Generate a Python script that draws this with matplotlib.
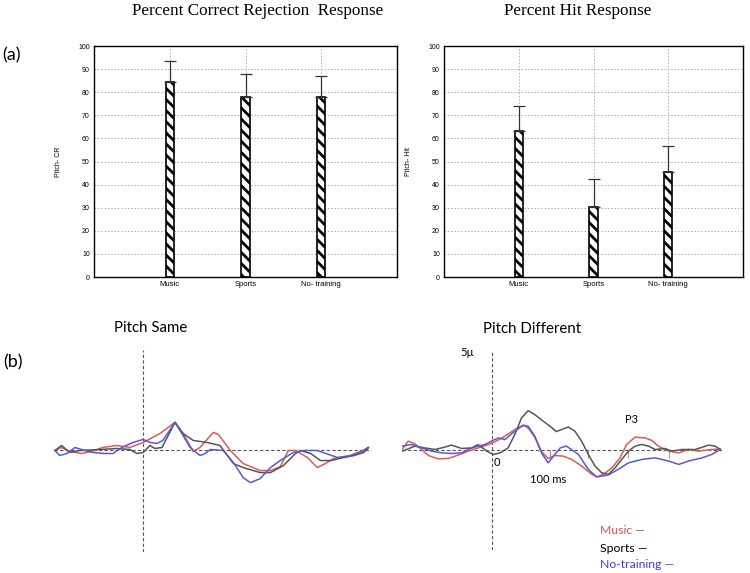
import matplotlib
matplotlib.use("Agg")
import matplotlib.pyplot as plt
import numpy as np

# --- behavioural data (percent) ---
groups = ["Music", "Sports", "No- training"]
cr_mean = [84.5, 78.0, 78.0]
cr_err = [9.0, 10.0, 9.0]
hit_mean = [63.0, 30.5, 45.5]
hit_err = [11.0, 12.0, 11.0]

# --- ERP traces, time in ms, amplitude in microvolts ---
same_music_t = [-198, -183, -165, -138, -109, -91, -59, -30, 0, 38, 71, 89, 112, 127, 157, 168,
                195, 224, 262, 285, 307, 325, 341, 368, 390, 408, 426, 458, 480, 503]
same_music_v = [0, 0.15, -0.05, -0.15, 0, 0.15, 0.25, 0.15, 0.4, 0.85, 1.4, 0.85, -0.05, 0.15, 0.9, 0.8,
                0, -0.65, -1.0, -1.0, -0.8, 0, 0, -0.35, -0.85, -0.65, -0.4, -0.3, -0.1, 0.1]
same_sports_t = [-198, -183, -165, -142, -97, -59, -30, -14, 0, 15, 26, 42, 71, 89, 112, 143,
                 172, 202, 224, 262, 285, 314, 341, 352, 375, 397, 420, 449, 472, 494, 505]
same_sports_v = [0, 0.25, -0.1, 0, 0.05, 0.1, 0.05, -0.15, -0.1, 0.25, 0.1, 0.15, 1.4, 0.85, 0.5, 0.4,
                 0.25, -0.65, -0.85, -1.1, -1.1, -0.75, -0.15, 0, -0.15, -0.5, -0.5, -0.35, -0.25, -0.1, 0.15]
same_none_t = [-198, -187, -171, -153, -131, -113, -86, -68, -48, -23, 0, 15, 31, 44, 71, 89, 105,
               127, 139, 150, 179, 202, 224, 240, 262, 285, 307, 336, 359, 390, 435, 464, 487, 503]
same_none_v = [0, -0.25, -0.15, 0.15, 0, -0.1, -0.15, -0.15, 0.15, 0.4, 0.55, 0.4, 0.35, 0.5, 1.4, 0.75, 0.15,
               -0.25, -0.15, 0.05, 0, -0.6, -1.35, -1.6, -1.4, -0.85, -0.5, -0.1, 0, 0, -0.35, -0.25, -0.1, 0.15]

diff_music_t = [-200, -187, -172, -157, -142, -120, -97, -75, -52, -30, -7, 7, 30, 52, 71, 82, 97, 112,
                127, 142, 160, 180, 202, 225, 236, 251, 270, 288, 303, 322, 345, 360, 374, 397, 420,
                442, 464, 494, 513]
diff_music_v = [0.03, 0.42, 0.28, 0, -0.3, -0.47, -0.45, -0.28, -0.08, 0.08, 0.25, 0.38, 0.67, 1.0, 1.22, 1.08,
                0.62, -0.1, -0.45, -0.3, -0.33, -0.5, -0.83, -1.25, -1.38, -1.25, -0.92, -0.42, 0.25, 0.62,
                0.58, 0.45, 0.17, -0.08, -0.17, 0, -0.08, 0, 0.03]
diff_sports_t = [-200, -172, -150, -127, -105, -90, -67, -45, -30, -11, 4, 19, 37, 52, 67, 82, 97, 116,
                 135, 145, 172, 187, 202, 217, 232, 247, 262, 277, 292, 307, 322, 337, 352, 367, 389,
                 404, 427, 457, 487, 502, 513]
diff_sports_v = [-0.08, 0.17, 0.08, 0, 0.12, 0.22, 0.05, 0.08, 0.25, -0.08, -0.25, -0.17, 0.08, 0.75, 1.58,
                 1.95, 1.75, 1.42, 1.1, 0.9, 1.13, 0.92, 0.42, -0.25, -0.83, -1.17, -1.25, -0.92, -0.5,
                 -0.08, 0.17, 0.25, 0.17, 0, 0.05, -0.08, 0, 0, 0.22, 0.17, 0]
diff_none_t = [-200, -180, -157, -135, -112, -90, -67, -45, -15, 0, 15, 30, 52, 71, 82, 97, 112, 127,
               139, 154, 168, 195, 217, 236, 262, 284, 307, 337, 367, 397, 420, 442, 472, 494, 513]
diff_none_v = [0.17, 0.25, 0.08, -0.08, -0.17, -0.2, -0.17, 0.08, 0.25, 0.42, 0.58, 0.5, 0.92, 1.22, 1.17,
               0.67, -0.17, -0.67, -0.33, 0.08, 0.17, -0.25, -1.0, -1.38, -1.28, -1.0, -0.67, -0.5, -0.42,
               -0.58, -0.75, -0.58, -0.42, -0.25, 0]
diff_ticks_t = [131, 216, 306, 398, 517]

W, H = 750, 573
plt.rcParams["hatch.linewidth"] = 2.0
fig = plt.figure(figsize=(W / 100, H / 100), dpi=100)


def add_px(l, t, r, b):
    return fig.add_axes([l / W, 1 - b / H, (r - l) / W, (b - t) / H])


def bar_panel(ax, vals, errs, ylabel):
    x = np.arange(1, len(groups) + 1)
    ax.bar(x, vals, width=0.11, color="white", edgecolor="black", hatch="\\\\\\",
           linewidth=1.2, zorder=3)
    ax.errorbar(x, vals, yerr=[np.zeros(len(errs)), errs], fmt="none", ecolor="#333333",
                elinewidth=0.9, capsize=4, capthick=0.9, zorder=4)
    ax.set_xlim(0, 4)
    ax.set_ylim(0, 100)
    ax.set_yticks(np.arange(0, 101, 10))
    ax.set_xticks(x)
    ax.set_xticklabels(groups, fontsize=5.5, family="Liberation Sans")
    for lab in ax.get_yticklabels():
        lab.set_fontsize(5)
        lab.set_family("Liberation Sans")
    ax.tick_params(length=0, pad=3)
    ax.grid(True, color="#aaaaaa", linestyle=(0, (2, 2)), linewidth=0.6, zorder=0)
    ax.set_ylabel(ylabel, fontsize=5, family="Liberation Sans", labelpad=12)
    for s in ax.spines.values():
        s.set_linewidth(1.0)


ax1 = add_px(94, 46, 397, 277)
bar_panel(ax1, cr_mean, cr_err, "Pitch- CR")
ax2 = add_px(444, 46, 743, 277)
bar_panel(ax2, hit_mean, hit_err, "Pitch- Hit")

fig.text(258 / W, 1 - 11 / H, "Percent Correct Rejection  Response", ha="center", va="center",
         fontsize=12.3, family="Liberation Serif")
fig.text(578 / W, 1 - 11 / H, "Percent Hit Response", ha="center", va="center",
         fontsize=12.3, family="Liberation Serif")
fig.text(2 / W, 1 - 55 / H, "(a)", ha="left", va="center", fontsize=13, family="Lato")
fig.text(3 / W, 1 - 362 / H, "(b)", ha="left", va="center", fontsize=13, family="Lato")

red, black, blue = "#e05a55", "#555555", "#5858d8"


def wave_panel(ax, xlim, series):
    ax.set_xlim(*xlim)
    ax.set_ylim(-5.05, 5)
    ax.axis("off")
    ax.axhline(0, color="#555555", linestyle=(0, (3, 2)), linewidth=0.8, zorder=1)
    ax.axvline(0, color="#555555", linestyle=(0, (3, 2)), linewidth=0.8, zorder=1)
    for t, v, c in series:
        ax.plot(t, v, color=c, linewidth=1.1, zorder=3)


ax3 = add_px(54, 350, 370, 552)
wave_panel(ax3, (-200, 508), [(same_music_t, same_music_v, red),
                              (same_sports_t, same_sports_v, black),
                              (same_none_t, same_none_v, blue)])
ax4 = add_px(402, 350, 722, 550)
wave_panel(ax4, (-201, 517), [(diff_music_t, diff_music_v, red),
                              (diff_sports_t, diff_sports_v, black),
                              (diff_none_t, diff_none_v, blue)])
ax4.vlines(diff_ticks_t, -0.45, 0, color="#999999", linewidth=0.7, zorder=1)
ax4.text(-55, 4.85, "5\u00b5", ha="center", va="center", fontsize=8, family=["Lato", "DejaVu Sans"])
ax4.text(12, -0.65, "0", ha="center", va="center", fontsize=8, family="Lato")
ax4.text(126, -1.5, "100 ms", ha="center", va="center", fontsize=8, family="Lato")
ax4.text(315, 1.5, "P3", ha="center", va="center", fontsize=8, family="Lato")

fig.text(151 / W, 1 - 328 / H, "Pitch Same", ha="center", va="center", fontsize=10.8, family="Lato")
fig.text(532 / W, 1 - 329 / H, "Pitch Different", ha="center", va="center", fontsize=10.8, family="Lato")

fig.text(600 / W, 1 - 531 / H, "Music \u2014", color="#d85050", fontsize=8.8, va="center", family="Lato")
fig.text(600 / W, 1 - 548 / H, "Sports \u2014", color="black", fontsize=8.8, va="center", family="Lato")
fig.text(600 / W, 1 - 564 / H, "No-training \u2014", color="#4040c8", fontsize=8.8, va="center", family="Lato")

fig.savefig("out.png", dpi=100)
